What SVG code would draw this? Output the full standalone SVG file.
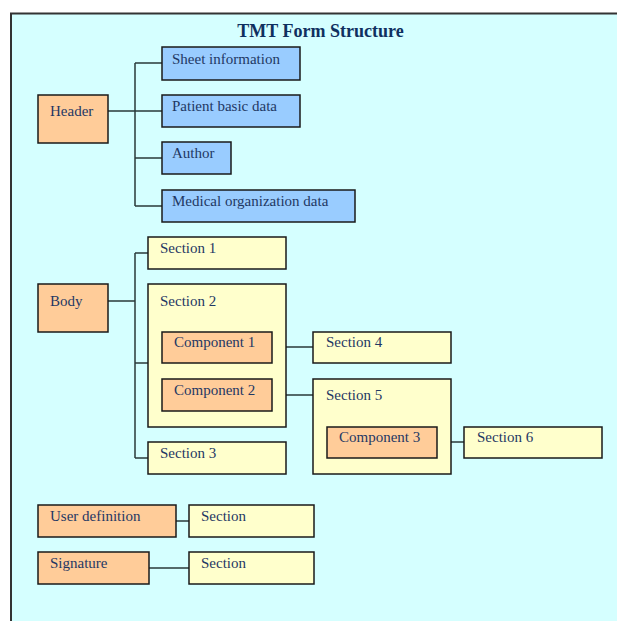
<svg xmlns="http://www.w3.org/2000/svg" width="617" height="621" viewBox="0 0 617 621">
  <style>
    .frame { fill: #d5ffff; stroke: #333; stroke-width: 2; }
    .box { stroke: #1a1a1a; stroke-width: 1.5; }
    .blue { fill: #99ccff; }
    .orange { fill: #ffcc99; }
    .yellow { fill: #ffffcc; }
    .lbl { font-family: "Liberation Serif", "Times New Roman", serif; font-size: 15px; fill: #1f3864; }
    .title { font-family: "Liberation Serif", "Times New Roman", serif; font-size: 18px; font-weight: bold; fill: #0f3060; }
    .conn { fill: none; stroke: #2a3a3a; stroke-width: 1.5; }
  </style>
  <rect width="617" height="621" fill="#ffffff"/>
  <rect class="frame" x="11" y="13.5" width="640" height="640"/>
  <text class="title" x="320.5" y="37" text-anchor="middle">TMT Form Structure</text>

  <g id="connectors">
    <!-- header tree -->
    <path class="conn" d="M108 111H162M135 63V206M135 63H162M135 158H162M135 206H162"/>
    <!-- body tree -->
    <path class="conn" d="M108 301H135M135 253V458M135 253H148M135 363H148M135 458H148"/>
    <path class="conn" d="M272 347H313M272 395H313M437 442H464"/>
    <!-- trailing parts -->
    <path class="conn" d="M176 521H189M149 568H189"/>
  </g>

  <g id="header"><rect class="box orange" x="38" y="95" width="70" height="48"/><text class="lbl" x="50" y="116">Header</text></g>
  <g id="sheet-information"><rect class="box blue" x="162" y="47" width="138" height="33"/><text class="lbl" x="172" y="64">Sheet information</text></g>
  <g id="patient-basic-data"><rect class="box blue" x="162" y="95" width="138" height="32"/><text class="lbl" x="172" y="111">Patient basic data</text></g>
  <g id="author"><rect class="box blue" x="162" y="142" width="69" height="32"/><text class="lbl" x="172" y="158">Author</text></g>
  <g id="medical-organization-data"><rect class="box blue" x="162" y="190" width="193" height="32"/><text class="lbl" x="172" y="206">Medical organization data</text></g>

  <g id="body"><rect class="box orange" x="38" y="284" width="70" height="48"/><text class="lbl" x="50" y="306">Body</text></g>
  <g id="section-1"><rect class="box yellow" x="148" y="237" width="138" height="32"/><text class="lbl" x="160" y="253">Section 1</text></g>
  <g id="section-2">
    <rect class="box yellow" x="148" y="284" width="138" height="143"/><text class="lbl" x="160" y="306">Section 2</text>
    <g id="component-1"><rect class="box orange" x="162" y="332" width="110" height="31"/><text class="lbl" x="174" y="347">Component 1</text></g>
    <g id="component-2"><rect class="box orange" x="162" y="379" width="110" height="32"/><text class="lbl" x="174" y="395">Component 2</text></g>
  </g>
  <g id="section-3"><rect class="box yellow" x="148" y="442" width="138" height="32"/><text class="lbl" x="160" y="458">Section 3</text></g>
  <g id="section-4"><rect class="box yellow" x="313" y="332" width="138" height="31"/><text class="lbl" x="326" y="347">Section 4</text></g>
  <g id="section-5">
    <rect class="box yellow" x="313" y="379" width="138" height="95"/><text class="lbl" x="326" y="400">Section 5</text>
    <g id="component-3"><rect class="box orange" x="327" y="427" width="110" height="31"/><text class="lbl" x="339" y="442">Component 3</text></g>
  </g>
  <g id="section-6"><rect class="box yellow" x="464" y="427" width="138" height="31"/><text class="lbl" x="477" y="442">Section 6</text></g>

  <g id="user-definition"><rect class="box orange" x="38" y="505" width="138" height="32"/><text class="lbl" x="50" y="521">User definition</text></g>
  <g id="user-definition-section"><rect class="box yellow" x="189" y="505" width="125" height="32"/><text class="lbl" x="201" y="521">Section</text></g>
  <g id="signature"><rect class="box orange" x="38" y="552" width="111" height="32"/><text class="lbl" x="50" y="568">Signature</text></g>
  <g id="signature-section"><rect class="box yellow" x="189" y="552" width="125" height="32"/><text class="lbl" x="201" y="568">Section</text></g>
</svg>
